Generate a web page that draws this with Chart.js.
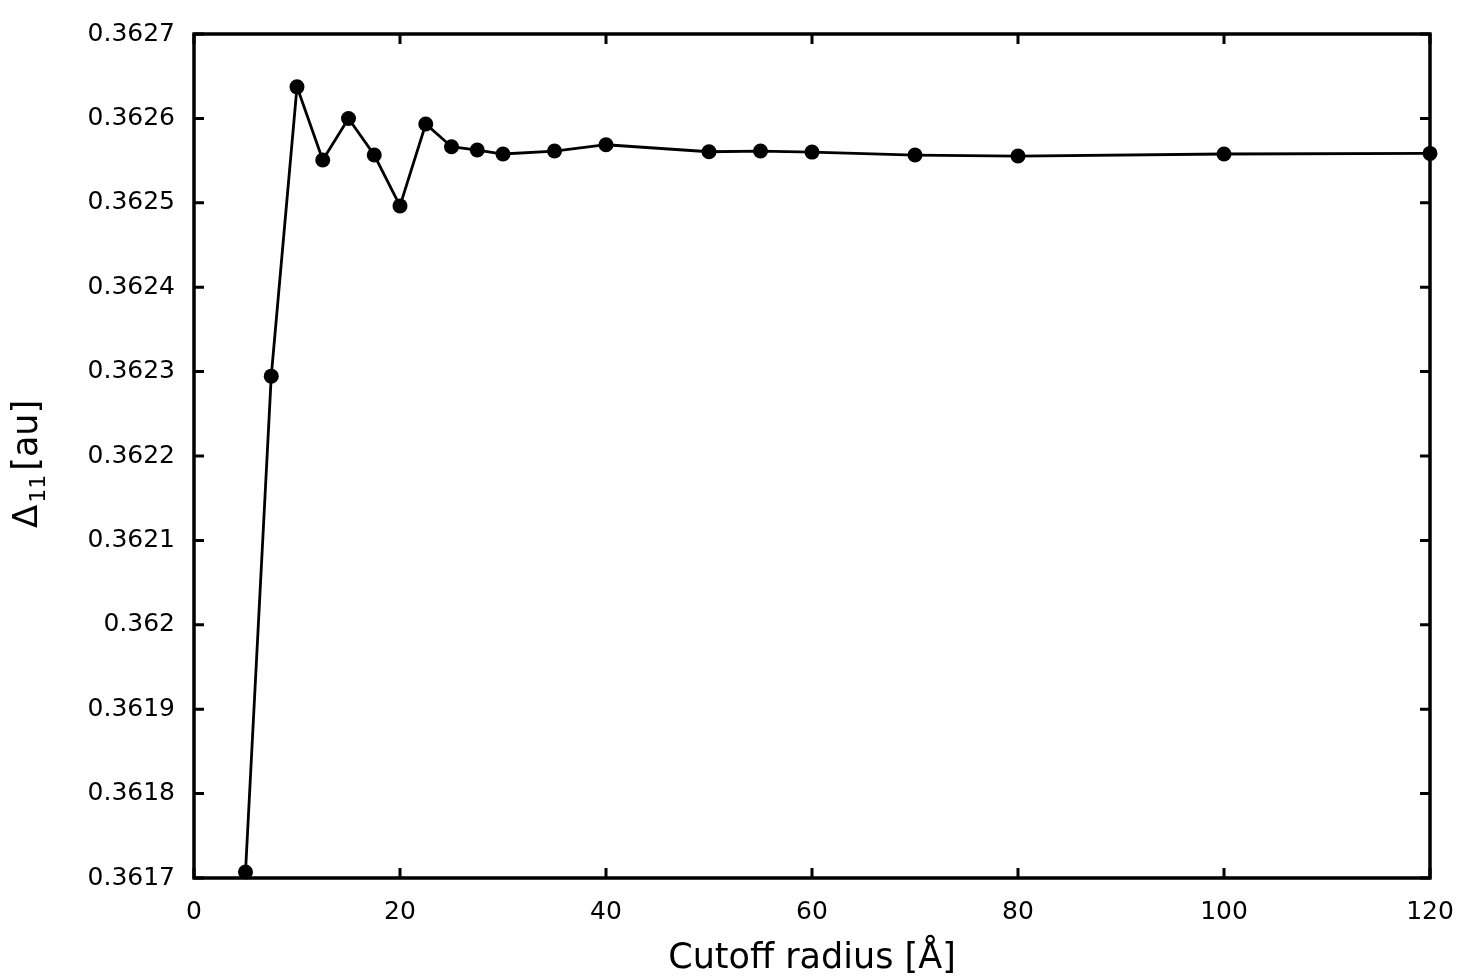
<!DOCTYPE html>
<html>
<head>
<meta charset="utf-8">
<script src="https://cdn.jsdelivr.net/npm/chart.js@4"></script>
<style>
  html, body { margin: 0; padding: 0; background: #fff; }
  #wrap { width: 1480px; height: 980px; }
</style>
</head>
<body>
<div id="wrap"><canvas id="c" width="1480" height="980"></canvas></div>
<script>
const cutoffRadius = [5, 7.5, 10, 12.5, 15, 17.5, 20, 22.5, 25, 27.5, 30, 35, 40, 50, 55, 60, 70, 80, 100, 120];
const delta11 = [0.3617071, 0.3622946, 0.3626374, 0.3625507, 0.3625999, 0.3625566, 0.3624963, 0.3625933,
                 0.3625664, 0.3625625, 0.3625578, 0.3625613, 0.3625688, 0.3625605, 0.3625613, 0.3625601,
                 0.3625566, 0.3625554, 0.3625578, 0.3625585];
const xTicks = [0, 20, 40, 60, 80, 100, 120];
const yTicks = [0.3617, 0.3618, 0.3619, 0.3620, 0.3621, 0.3622, 0.3623, 0.3624, 0.3625, 0.3626, 0.3627];
const xTitle = 'Cutoff radius [Å]';
const yTitleMain = 'Δ';
const yTitleSub = '11';
const yTitleUnit = '[au]';

const FONT = 'DejaVu Sans';

const framePlugin = {
  id: 'frameTicks',
  beforeDatasetsDraw(chart) {
    const { ctx, chartArea: a, scales } = chart;
    const L = 10;
    ctx.save();
    ctx.strokeStyle = '#000';
    ctx.lineWidth = 3;
    ctx.lineCap = 'butt';
    ctx.beginPath();
    for (const t of scales.x.ticks) {
      const px = scales.x.getPixelForValue(t.value);
      ctx.moveTo(px, a.bottom); ctx.lineTo(px, a.bottom - L);
      ctx.moveTo(px, a.top); ctx.lineTo(px, a.top + L);
    }
    for (const t of scales.y.ticks) {
      const py = scales.y.getPixelForValue(t.value);
      ctx.moveTo(a.left, py); ctx.lineTo(a.left + L, py);
      ctx.moveTo(a.right, py); ctx.lineTo(a.right - L, py);
    }
    ctx.stroke();
    ctx.lineWidth = 3.5;
    ctx.strokeRect(a.left, a.top, a.right - a.left, a.bottom - a.top);
    ctx.restore();
  },
  afterDraw(chart) {
    // y-axis title with a real subscript
    const { ctx, chartArea: a } = chart;
    const cy = (a.top + a.bottom) / 2;
    ctx.save();
    ctx.fillStyle = '#000';
    ctx.textBaseline = 'alphabetic';
    ctx.textAlign = 'left';
    ctx.translate(37, cy + 72);
    ctx.rotate(-Math.PI / 2);
    ctx.font = '34px "' + FONT + '"';
    ctx.fillText(yTitleMain, 0, 0);
    let x = ctx.measureText(yTitleMain).width + 2;
    ctx.font = '22px "' + FONT + '"';
    ctx.fillText(yTitleSub, x, 8);
    x += ctx.measureText(yTitleSub).width + 4;
    ctx.font = '35px "' + FONT + '"';
    ctx.fillText(yTitleUnit, x, 0);
    ctx.restore();
  }
};

new Chart(document.getElementById('c'), {
  type: 'line',
  data: {
    datasets: [{
      data: cutoffRadius.map((x, i) => ({ x: x, y: delta11[i] })),
      borderColor: '#000',
      backgroundColor: '#000',
      borderWidth: 2.8,
      pointRadius: 7.5,
      pointBackgroundColor: '#000',
      pointBorderWidth: 0,
      tension: 0,
      clip: false
    }]
  },
  options: {
    responsive: false,
    animation: false,
    events: [],
    layout: { padding: { top: 32, right: 50, left: 0, bottom: 0 } },
    plugins: { legend: { display: false }, tooltip: { enabled: false } },
    scales: {
      x: {
        type: 'linear',
        min: 0, max: 120,
        afterBuildTicks: s => { s.ticks = xTicks.map(v => ({ value: v })); },
        afterFit: s => { s.height = 102; },
        grid: { display: false, drawTicks: false },
        border: { display: false },
        ticks: { color: '#000', font: { family: FONT, size: 25 }, padding: 19, maxRotation: 0,
                 callback: v => String(v) },
        title: { display: true, text: xTitle, color: '#000',
                 font: { family: FONT, size: 35, lineHeight: 1.2 }, padding: 0 }
      },
      y: {
        type: 'linear',
        min: 0.3617, max: 0.3627,
        afterBuildTicks: s => { s.ticks = yTicks.map(v => ({ value: v })); },
        afterFit: s => { s.width = 194; },
        grid: { display: false, drawTicks: false },
        border: { display: false },
        ticks: { color: '#000', font: { family: FONT, size: 25 }, padding: 19,
                 callback: v => String(Number(v.toFixed(4))) },
        title: { display: false }
      }
    }
  },
  plugins: [framePlugin]
});
</script>
</body>
</html>
